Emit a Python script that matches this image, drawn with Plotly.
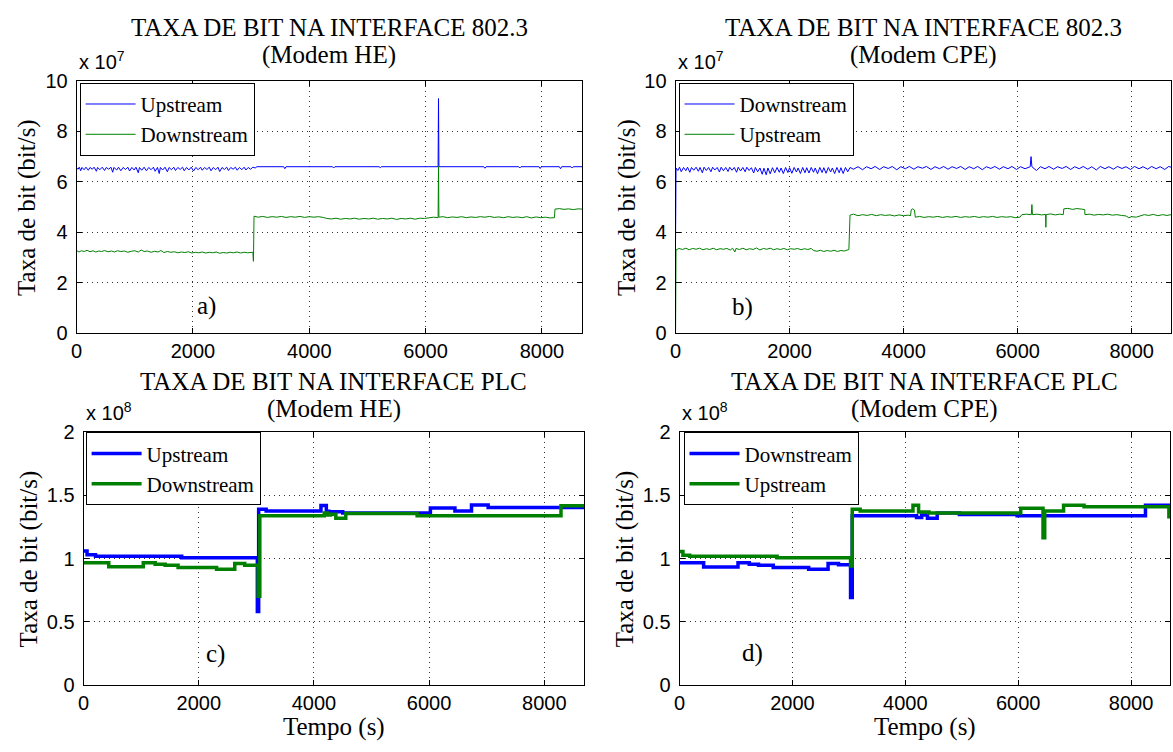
import plotly.graph_objects as go

W, H = 1173, 752
SERIF = "Liberation Serif, Times New Roman, serif"
SANS = "Liberation Sans, Arial, sans-serif"
BLUE = "#0000FF"
GREEN = "#008000"

# ---------------- Panel a: 802.3, Modem HE (x 1e7 bit/s) ----------------
a_up_t = [0, 25, 45, 70, 90, 130, 160, 200, 230, 270, 300, 340, 360, 400, 440, 480, 510, 550, 590, 620,
          640, 690, 720, 760, 800, 840, 880, 910, 950, 990, 1020, 1060, 1080, 1120, 1160, 1200, 1240, 1280,
          1320, 1350, 1390, 1420, 1440, 1480, 1520, 1560, 1590, 1630, 1670, 1700, 1740, 1780, 1820, 1850,
          1890, 1930, 1970, 2010, 2050, 2090, 2130, 2160, 2200, 2240, 2280, 2310, 2350, 2390, 2430, 2460,
          2500, 2540, 2580, 2610, 2650, 2690, 2730, 2760, 2800, 2840, 2880, 2910, 2950, 2990, 3030, 3070,
          3100, 3560, 3580, 3600, 4400, 4420, 4440, 5200, 5220, 5240, 6215, 6222, 6229, 7000, 7020, 7040,
          7600, 7620, 7640, 7950, 7970, 7990, 8300, 8320, 8340, 8500, 8520, 8540, 8690]
a_up_v = [6.55, 6.50, 6.58, 6.44, 6.57, 6.48, 6.58, 6.46, 6.57, 6.50, 6.58, 6.42, 6.57, 6.48, 6.58, 6.45, 6.57,
          6.50, 6.58, 6.38, 6.57, 6.47, 6.58, 6.44, 6.57, 6.49, 6.58, 6.43, 6.57, 6.47, 6.58, 6.36, 6.57, 6.46,
          6.58, 6.44, 6.57, 6.48, 6.58, 6.42, 6.57, 6.33, 6.57, 6.47, 6.58, 6.40, 6.57, 6.48, 6.58, 6.45, 6.57,
          6.49, 6.58, 6.44, 6.57, 6.47, 6.58, 6.43, 6.57, 6.48, 6.58, 6.46, 6.57, 6.49, 6.58, 6.44, 6.57, 6.48,
          6.58, 6.41, 6.57, 6.49, 6.58, 6.45, 6.57, 6.50, 6.58, 6.46, 6.57, 6.48, 6.58, 6.47, 6.57, 6.50, 6.58,
          6.55, 6.60, 6.60, 6.52, 6.60, 6.60, 6.55, 6.60, 6.60, 6.56, 6.60, 6.60, 9.30, 6.60, 6.60, 6.54, 6.60,
          6.60, 6.55, 6.60, 6.60, 6.53, 6.60, 6.60, 6.52, 6.60, 6.60, 6.55, 6.60, 6.60]
a_dn_t = [0, 40, 80, 130, 180, 230, 280, 330, 380, 430, 480, 540, 600, 650, 700, 760, 820, 880, 940, 1000,
          1060, 1110, 1160, 1220, 1280, 1340, 1400, 1450, 1500, 1560, 1620, 1680, 1740, 1800, 1860, 1920,
          1980, 2040, 2100, 2160, 2220, 2280, 2340, 2400, 2460, 2520, 2580, 2640, 2700, 2760, 2820, 2880,
          2940, 3000, 3030, 3040, 3050, 3120, 3200, 3280, 3360, 3440, 3520, 3600, 3680, 3760, 3840, 3920,
          4000, 4080, 4160, 4240, 4300, 4380, 4460, 4540, 4620, 4700, 4780, 4860, 4940, 5020, 5100, 5180,
          5260, 5340, 5420, 5500, 5580, 5660, 5740, 5820, 5900, 5980, 6060, 6140, 6215, 6222, 6229, 6300,
          6380, 6460, 6540, 6620, 6700, 6780, 6860, 6940, 7020, 7100, 7180, 7260, 7340, 7420, 7500, 7580,
          7660, 7740, 7820, 7900, 7980, 8060, 8140, 8215, 8225, 8300, 8380, 8460, 8540, 8620, 8690]
a_dn_v = [3.28, 3.22, 3.27, 3.24, 3.29, 3.23, 3.27, 3.22, 3.26, 3.24, 3.28, 3.23, 3.26, 3.22, 3.27, 3.24, 3.26,
          3.21, 3.25, 3.27, 3.22, 3.30, 3.24, 3.26, 3.21, 3.25, 3.22, 3.28, 3.20, 3.24, 3.21, 3.23, 3.19, 3.22,
          3.20, 3.23, 3.18, 3.21, 3.19, 3.22, 3.18, 3.21, 3.19, 3.22, 3.17, 3.20, 3.18, 3.21, 3.19, 3.22, 3.18,
          3.21, 3.19, 3.21, 3.21, 2.85, 4.64, 4.60, 4.63, 4.59, 4.62, 4.60, 4.63, 4.59, 4.62, 4.60, 4.63, 4.59,
          4.62, 4.60, 4.62, 4.59, 4.55, 4.53, 4.56, 4.52, 4.55, 4.53, 4.56, 4.52, 4.55, 4.53, 4.56, 4.52, 4.55,
          4.53, 4.56, 4.51, 4.55, 4.53, 4.56, 4.52, 4.56, 4.55, 4.58, 4.60, 4.58, 6.60, 4.60, 4.62, 4.58, 4.61,
          4.59, 4.62, 4.58, 4.61, 4.59, 4.62, 4.60, 4.63, 4.59, 4.61, 4.58, 4.62, 4.59, 4.61, 4.58, 4.62, 4.57,
          4.61, 4.58, 4.60, 4.57, 4.58, 4.92, 4.94, 4.91, 4.93, 4.90, 4.93, 4.92]

# ---------------- Panel b: 802.3, Modem CPE (x 1e7 bit/s) ----------------
b_dn_t = [0, 8, 40, 70, 100, 140, 180, 210, 250, 280, 320, 360, 400, 430, 470, 500, 540, 580, 620, 650, 690,
          730, 770, 800, 840, 880, 920, 950, 990, 1030, 1070, 1100, 1140, 1180, 1220, 1250, 1290, 1330, 1370,
          1400, 1440, 1480, 1520, 1550, 1590, 1620, 1660, 1700, 1740, 1780, 1820, 1850, 1890, 1930, 1970,
          2000, 2040, 2080, 2120, 2150, 2190, 2230, 2270, 2300, 2340, 2380, 2420, 2450, 2490, 2530, 2570,
          2600, 2640, 2680, 2720, 2750, 2790, 2830, 2870, 2900, 2940, 2980, 3020, 3060, 3120, 3200, 3280,
          3350, 3430, 3500, 3580, 3650, 3730, 3800, 3880, 3950, 4030, 4100, 4180, 4250, 4330, 4400, 4480,
          4550, 4630, 4700, 4780, 4850, 4930, 5000, 5080, 5150, 5230, 5300, 5380, 5450, 5530, 5600, 5680,
          5750, 5830, 5900, 5980, 6050, 6130, 6220, 6235, 6250, 6330, 6400, 6480, 6550, 6630, 6700, 6780,
          6850, 6930, 7000, 7080, 7150, 7230, 7300, 7380, 7450, 7530, 7600, 7680, 7750, 7830, 7900, 7980,
          8050, 8130, 8200, 8280, 8350, 8430, 8500, 8580, 8650, 8690]
b_dn_v = [3.70, 6.55, 6.45, 6.58, 6.40, 6.57, 6.44, 6.58, 6.38, 6.57, 6.46, 6.58, 6.42, 6.57, 6.36, 6.58, 6.45,
          6.57, 6.40, 6.58, 6.47, 6.57, 6.39, 6.58, 6.44, 6.57, 6.41, 6.58, 6.46, 6.57, 6.38, 6.58, 6.43, 6.57,
          6.40, 6.58, 6.45, 6.56, 6.35, 6.57, 6.40, 6.55, 6.30, 6.54, 6.28, 6.55, 6.32, 6.56, 6.36, 6.57, 6.38,
          6.55, 6.33, 6.57, 6.37, 6.56, 6.34, 6.57, 6.39, 6.55, 6.33, 6.57, 6.36, 6.56, 6.35, 6.57, 6.38, 6.55,
          6.32, 6.57, 6.37, 6.56, 6.34, 6.57, 6.39, 6.55, 6.33, 6.57, 6.36, 6.56, 6.33, 6.57, 6.40, 6.57, 6.50,
          6.60, 6.48, 6.60, 6.52, 6.61, 6.49, 6.60, 6.53, 6.61, 6.48, 6.60, 6.52, 6.61, 6.50, 6.60, 6.54, 6.61,
          6.49, 6.60, 6.52, 6.61, 6.50, 6.60, 6.53, 6.61, 6.49, 6.60, 6.52, 6.61, 6.48, 6.60, 6.53, 6.61, 6.50,
          6.60, 6.52, 6.61, 6.49, 6.60, 6.52, 6.60, 7.00, 6.60, 6.45, 6.60, 6.52, 6.61, 6.50, 6.60, 6.53, 6.61,
          6.49, 6.60, 6.52, 6.61, 6.50, 6.60, 6.47, 6.61, 6.52, 6.60, 6.50, 6.61, 6.53, 6.60, 6.49, 6.61, 6.52,
          6.60, 6.50, 6.61, 6.52, 6.60, 6.49, 6.61, 6.58]
b_up_t = [0, 8, 60, 120, 180, 240, 300, 360, 420, 480, 540, 600, 660, 720, 780, 840, 900, 960, 1000, 1040,
          1060, 1120, 1180, 1240, 1300, 1360, 1420, 1480, 1540, 1600, 1660, 1720, 1780, 1840, 1900, 1960,
          2020, 2080, 2140, 2200, 2260, 2320, 2380, 2420, 2480, 2540, 2600, 2660, 2720, 2780, 2840, 2900,
          2960, 3020, 3040, 3060, 3120, 3200, 3280, 3360, 3440, 3520, 3600, 3680, 3760, 3840, 3920, 4000,
          4080, 4120, 4135, 4160, 4190, 4205, 4280, 4360, 4440, 4520, 4600, 4680, 4760, 4840, 4920, 5000,
          5080, 5160, 5240, 5320, 5400, 5480, 5560, 5640, 5720, 5800, 5880, 5960, 6040, 6075, 6150, 6240,
          6250, 6260, 6340, 6420, 6490, 6495, 6500, 6580, 6660, 6740, 6800, 6810, 6880, 6960, 7040, 7120,
          7177, 7180, 7260, 7340, 7420, 7500, 7580, 7660, 7740, 7820, 7900, 7950, 8000, 8080, 8160, 8220,
          8300, 8380, 8460, 8540, 8620, 8690]
b_up_v = [0.00, 3.30, 3.36, 3.32, 3.37, 3.31, 3.36, 3.33, 3.37, 3.31, 3.35, 3.32, 3.37, 3.31, 3.35, 3.33, 3.36,
          3.30, 3.37, 3.22, 3.36, 3.32, 3.37, 3.31, 3.35, 3.32, 3.38, 3.30, 3.36, 3.33, 3.37, 3.31, 3.35, 3.32,
          3.36, 3.31, 3.35, 3.33, 3.36, 3.31, 3.35, 3.32, 3.36, 3.28, 3.25, 3.29, 3.24, 3.28, 3.25, 3.29, 3.24,
          3.28, 3.26, 3.30, 3.32, 4.68, 4.72, 4.66, 4.70, 4.67, 4.71, 4.66, 4.70, 4.67, 4.69, 4.65, 4.69, 4.66,
          4.68, 4.66, 4.90, 4.93, 4.88, 4.60, 4.63, 4.59, 4.62, 4.60, 4.63, 4.59, 4.62, 4.60, 4.63, 4.59, 4.62,
          4.60, 4.63, 4.59, 4.62, 4.60, 4.63, 4.59, 4.62, 4.60, 4.62, 4.58, 4.60, 4.70, 4.72, 4.70, 5.10, 4.70,
          4.72, 4.69, 4.71, 4.20, 4.70, 4.73, 4.69, 4.72, 4.70, 4.93, 4.95, 4.91, 4.94, 4.92, 4.90, 4.70, 4.72,
          4.68, 4.71, 4.69, 4.72, 4.68, 4.70, 4.67, 4.65, 4.58, 4.62, 4.60, 4.64, 4.70, 4.67, 4.71, 4.66, 4.70,
          4.67, 4.70]

# ---------------- Panel c: PLC, Modem HE (x 1e8 bit/s) ----------------
c_up_t = [0, 60, 207, 1704, 3017, 3040, 3170, 4122, 4215, 4260, 4500, 6022, 6448, 6736, 7025, 8690]
c_up_v = [1.06, 1.03, 1.018, 1.005, 0.58, 1.39, 1.377, 1.42, 1.375, 1.37, 1.36, 1.40, 1.377, 1.423, 1.405, 1.405]
c_dn_t = [0, 437, 1036, 1243, 1416, 1641, 2309, 2625, 2798, 3030, 3060, 4180, 4240, 4290, 4380, 4553, 5792,
          8290, 8690]
c_dn_v = [0.967, 0.935, 0.967, 0.955, 0.946, 0.928, 0.915, 0.96, 0.946, 0.70, 1.338, 1.36, 1.345, 1.35, 1.318,
          1.356, 1.338, 1.418, 1.418]

# ---------------- Panel d: PLC, Modem CPE (x 1e8 bit/s) ----------------
d_dn_t = [0, 427, 1036, 1235, 1399, 1660, 2288, 2632, 2816, 3030, 3060, 4199, 4290, 4393, 4565, 4958, 5981,
          8255, 8690]
d_dn_v = [0.967, 0.933, 0.967, 0.954, 0.946, 0.928, 0.915, 0.96, 0.95, 0.69, 1.338, 1.325, 1.345, 1.318, 1.36,
          1.349, 1.338, 1.421, 1.421]
d_up_t = [0, 60, 180, 1729, 3030, 3060, 3200, 4136, 4235, 4420, 6045, 6440, 6470, 6804, 7167, 8670, 8690]
d_up_v = [1.056, 1.025, 1.018, 1.005, 0.94, 1.39, 1.377, 1.421, 1.369, 1.36, 1.398, 1.164, 1.377, 1.421, 1.41,
          1.33, 1.33]

X_MAX = 8690
X_TICKS = [0, 2000, 4000, 6000, 8000]
TITLE_TOP = "TAXA DE BIT NA INTERFACE 802.3"
TITLE_BOT = "TAXA DE BIT NA INTERFACE PLC"
YLABEL = "Taxa de bit (bit/s)"
XLABEL = "Tempo (s)"

# panel pixel boxes: (left, right, top, bottom)
boxes = {
    1: (71, 579, 72, 332),
    2: (673, 1171, 72, 332),
    3: (78, 581, 434, 694),
    4: (677, 1170, 434, 694),
}

fig = go.Figure()

def add(tr_t, tr_v, name, color, width, idx, shape="linear"):
    fig.add_trace(go.Scatter(
        x=tr_t, y=tr_v, name=name, mode="lines",
        line=dict(color=color, width=width, shape=shape),
        xaxis="x" if idx == 1 else f"x{idx}", yaxis="y" if idx == 1 else f"y{idx}",
        legend="legend" if idx == 1 else f"legend{idx}",
    ))

add(a_up_t, a_up_v, "Upstream", BLUE, 1, 1)
add(a_dn_t, a_dn_v, "Downstream", GREEN, 1, 1)
add(b_dn_t, b_dn_v, "Downstream", BLUE, 1, 2)
add(b_up_t, b_up_v, "Upstream", GREEN, 1, 2)
add(c_up_t, c_up_v, "Upstream", BLUE, 3.5, 3, "hv")
add(c_dn_t, c_dn_v, "Downstream", GREEN, 3.5, 3, "hv")
add(d_dn_t, d_dn_v, "Downstream", BLUE, 3.5, 4, "hv")
add(d_up_t, d_up_v, "Upstream", GREEN, 3.5, 4, "hv")

layout = dict(
    width=W, height=H, margin=dict(l=0, r=0, t=0, b=0),
    paper_bgcolor="white", plot_bgcolor="white", showlegend=True,
)
annotations = []
for i, (l, r, t, b) in boxes.items():
    sx = "" if i == 1 else str(i)
    top_row = i in (1, 2)
    common = dict(
        ticks="inside", ticklen=5, tickcolor="black",
        showline=True, linecolor="black", linewidth=1, mirror="ticks",
        showgrid=True, gridcolor="#333333", griddash="1px,4px", gridwidth=1,
        zeroline=False, tickfont=dict(family=SANS, size=20, color="black"),
    )
    layout["xaxis" + sx] = dict(
        domain=[l / W, r / W], anchor="y" + sx, range=[0, X_MAX],
        tickvals=X_TICKS, **common,
    )
    layout["yaxis" + sx] = dict(
        domain=[1 - b / H, 1 - t / H], anchor="x" + sx,
        range=[0, 10] if top_row else [0, 2], dtick=2 if top_row else 0.5,
        ticklabelstandoff=4, **common,
    )
    # legend
    lx = {1: 74, 2: 676, 3: 80, 4: 681}[i]
    ly = 74 if top_row else 434
    layout["legend" if i == 1 else f"legend{i}"] = dict(
        x=lx / W, y=1 - ly / H, xanchor="left", yanchor="top",
        bgcolor="white", bordercolor="black", borderwidth=1,
        font=dict(family=SERIF, size=21, color="black"), itemwidth=50,
        tracegroupgap=0,
    )
    cx = (l + r) / 2 / W
    title1 = TITLE_TOP if top_row else TITLE_BOT
    sub = "(Modem HE)" if i in (1, 3) else "(Modem CPE)"
    y1 = 17 if top_row else 382
    annotations.append(dict(text=title1, x=cx, y=1 - y1 / H, xref="paper", yref="paper",
                            xanchor="center", yanchor="middle", showarrow=False,
                            font=dict(family=SERIF, size=25, color="black")))
    annotations.append(dict(text=sub, x=cx, y=1 - (y1 + 28) / H, xref="paper", yref="paper",
                            xanchor="center", yanchor="middle", showarrow=False,
                            font=dict(family=SERIF, size=25, color="black")))
    # exponent label
    annotations.append(dict(text="x 10<sup>7</sup>" if top_row else "x 10<sup>8</sup>",
                            x=l / W, y=1 - (t - 6) / H, xref="paper", yref="paper",
                            xanchor="left", yanchor="bottom", showarrow=False,
                            font=dict(family=SANS, size=20, color="black")))
    # y label
    ylx = {1: 21, 2: 624, 3: 23, 4: 622}[i]
    annotations.append(dict(text=YLABEL, x=ylx / W, y=1 - (t + b) / 2 / H, xref="paper", yref="paper",
                            xanchor="center", yanchor="middle", textangle=-90, showarrow=False,
                            font=dict(family=SERIF, size=25, color="black")))
    if not top_row:
        annotations.append(dict(text=XLABEL, x=cx, y=1 - 738 / H, xref="paper", yref="paper",
                                xanchor="center", yanchor="middle", showarrow=False,
                                font=dict(family=SERIF, size=25, color="black")))

# panel letters (data coordinates)
letters = [("a)", 2240, 1.1, "x", "y"), ("b)", 1173, 1.04, "x2", "y2"),
           ("c)", 2297, 0.24, "x3", "y3"), ("d)", 1287, 0.25, "x4", "y4")]
for txt, lx, ly, xr, yr in letters:
    annotations.append(dict(text=txt, x=lx, y=ly, xref=xr, yref=yr, showarrow=False,
                            xanchor="center", yanchor="middle",
                            font=dict(family=SERIF, size=25, color="black")))

layout["annotations"] = annotations
fig.update_layout(**layout)
fig.write_html("out.html")
